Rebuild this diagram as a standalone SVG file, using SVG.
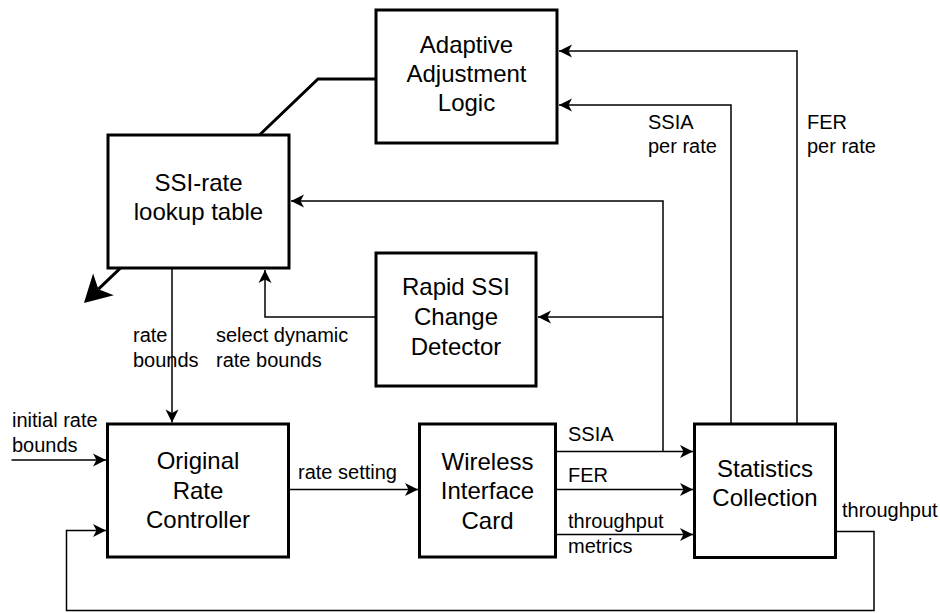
<svg xmlns="http://www.w3.org/2000/svg" width="940" height="613" viewBox="0 0 940 613">
<style>
.box{fill:#fff;stroke:#000;stroke-width:3}
.t{font-family:"Liberation Sans",Arial,Helvetica,sans-serif;font-size:24px;fill:#000;text-anchor:middle}
.l{font-family:"Liberation Sans",Arial,Helvetica,sans-serif;font-size:20px;fill:#000}
.c{fill:none;stroke:#000;stroke-width:1.5}
.thick{fill:none;stroke:#000;stroke-width:3}
</style>
<defs>
<marker id="arr" markerUnits="userSpaceOnUse" markerWidth="14" markerHeight="14" refX="13" refY="6.5" orient="auto" overflow="visible">
<path d="M0,0 L13,6.5 L0,13 L3.5,6.5 Z" fill="#000"/>
</marker>
<marker id="big" markerUnits="userSpaceOnUse" markerWidth="28" markerHeight="30" refX="7" refY="15" orient="auto" overflow="visible">
<path d="M0,0 L27,15 L0,30 L7,15 Z" fill="#000"/>
</marker>
</defs>
<rect width="940" height="613" fill="#fff"/>
<g id="connectors">
<path class="thick" d="M376,79 L318,79 L98.4,289.2" marker-end="url(#big)"/>
<path class="c" d="M172,268 L172,422.5" marker-end="url(#arr)"/>
<path class="c" d="M376,317 L265,317 L265,270" marker-end="url(#arr)"/>
<path class="c" d="M555,451.5 L693,451.5" marker-end="url(#arr)"/>
<path class="c" d="M663,451.5 L663,201 L291,201" marker-end="url(#arr)"/>
<path class="c" d="M663,317 L538,317" marker-end="url(#arr)"/>
<path class="c" d="M555,489.5 L693,489.5" marker-end="url(#arr)"/>
<path class="c" d="M555,534.5 L693,534.5" marker-end="url(#arr)"/>
<path class="c" d="M731,424 L731,105 L559,105" marker-end="url(#arr)"/>
<path class="c" d="M797,424 L797,51 L559,51" marker-end="url(#arr)"/>
<path class="c" d="M835,531.5 L874,531.5 L874,610.5 L66.5,610.5 L66.5,530.5 L106,530.5" marker-end="url(#arr)"/>
<path class="c" d="M11.5,460 L106,460" marker-end="url(#arr)"/>
<path class="c" d="M288,489.5 L418,489.5" marker-end="url(#arr)"/>
<text class="l" x="12" y="427">initial rate</text>
<text class="l" x="12" y="452">bounds</text>
<text class="l" x="298" y="479">rate setting</text>
<text class="l" x="133" y="341.5">rate</text>
<text class="l" x="133" y="367">bounds</text>
<text class="l" x="216" y="341.5">select dynamic</text>
<text class="l" x="216" y="367">rate bounds</text>
<text class="l" x="568" y="441">SSIA</text>
<text class="l" x="568" y="482">FER</text>
<text class="l" x="568" y="527.5">throughput</text>
<text class="l" x="568" y="553">metrics</text>
<text class="l" x="842" y="517">throughput</text>
<text class="l" x="648" y="129">SSIA</text>
<text class="l" x="648" y="153">per rate</text>
<text class="l" x="807" y="129">FER</text>
<text class="l" x="807" y="153">per rate</text>
</g>
<g id="adaptive">
<rect class="box" x="376" y="10" width="181" height="133"/>
<text class="t" x="466.5" y="53">Adaptive</text>
<text class="t" x="466.5" y="82">Adjustment</text>
<text class="t" x="466.5" y="111">Logic</text>
</g>
<g id="lookup">
<rect class="box" x="108" y="135" width="181" height="133"/>
<text class="t" x="198.5" y="191">SSI-rate</text>
<text class="t" x="198.5" y="219.5">lookup table</text>
</g>
<g id="rapid">
<rect class="box" x="376" y="253" width="160" height="133"/>
<text class="t" x="456" y="295">Rapid SSI</text>
<text class="t" x="456" y="325">Change</text>
<text class="t" x="456" y="355">Detector</text>
</g>
<g id="original">
<rect class="box" x="107.5" y="424" width="181" height="133"/>
<text class="t" x="198" y="469">Original</text>
<text class="t" x="198" y="499">Rate</text>
<text class="t" x="198" y="528">Controller</text>
</g>
<g id="wireless">
<rect class="box" x="419.5" y="424" width="136" height="133"/>
<text class="t" x="487.5" y="470">Wireless</text>
<text class="t" x="487.5" y="499">Interface</text>
<text class="t" x="487.5" y="529">Card</text>
</g>
<g id="stats">
<rect class="box" x="694.5" y="424" width="141" height="133.5"/>
<text class="t" x="765" y="477">Statistics</text>
<text class="t" x="765" y="506">Collection</text>
</g>
</svg>
